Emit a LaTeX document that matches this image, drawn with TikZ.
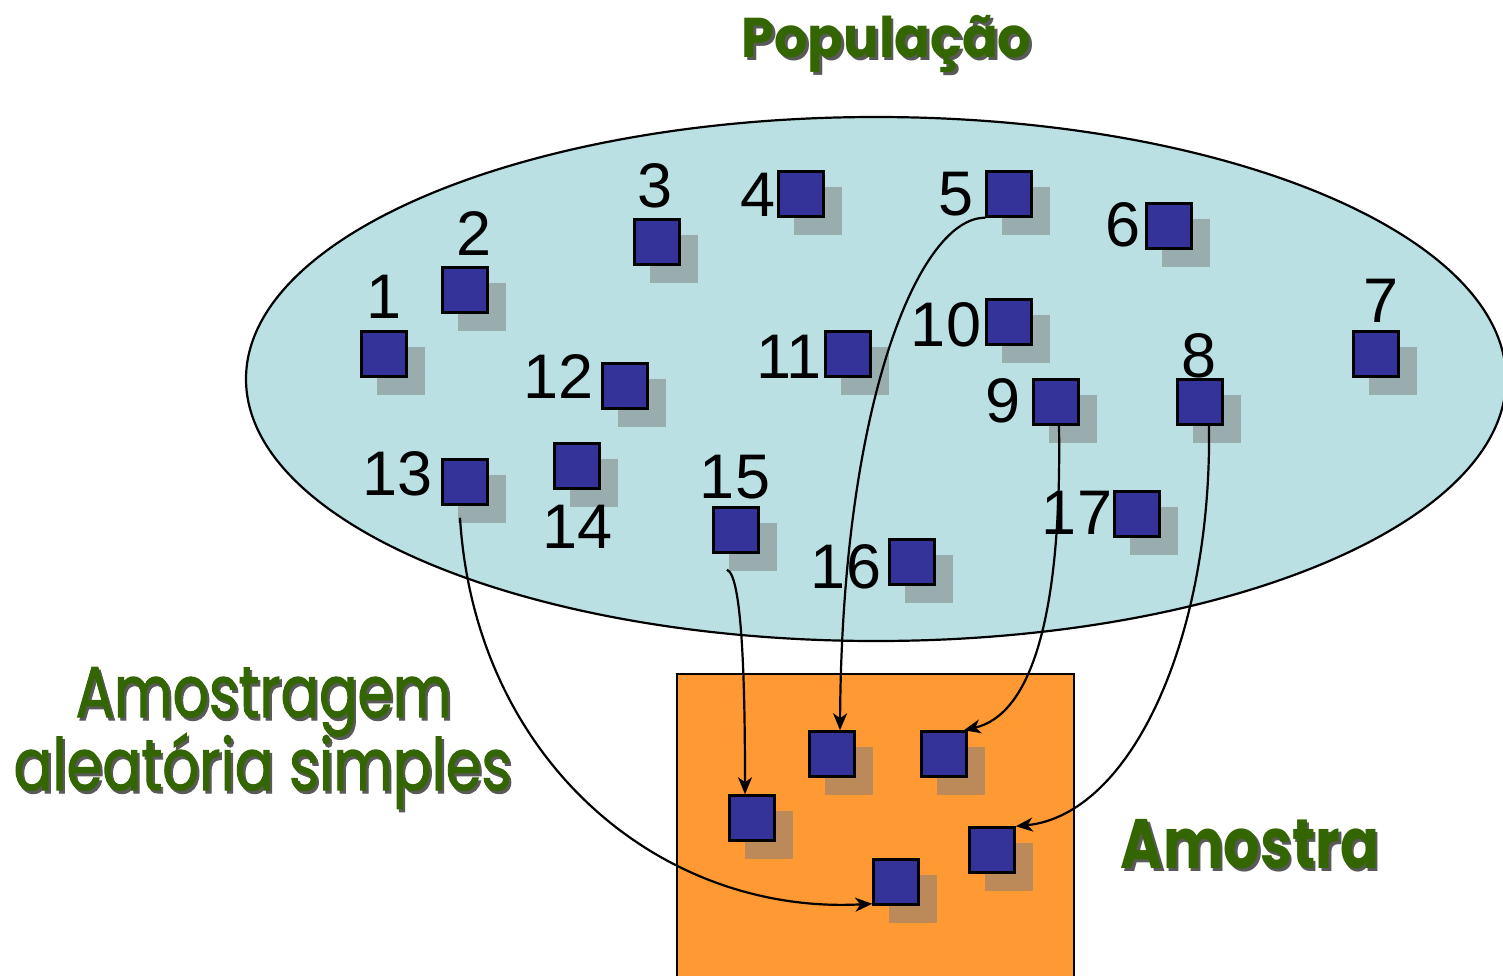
\documentclass[tikz,border=0pt]{standalone}
\usepackage{fontspec}
\usetikzlibrary{arrows.meta,shadows}
\newfontfamily\numfont{Liberation Sans}
\newfontfamily\ttlfont{Poppins}
\newfontfamily\ttlmed{Poppins}[FakeBold=1.6]
\definecolor{ellfill}{RGB}{186,224,227}
\definecolor{sqblue}{RGB}{51,51,153}
\definecolor{orng}{RGB}{255,153,51}
\definecolor{grn}{RGB}{51,102,0}
\definecolor{shd}{RGB}{122,124,125}
\newcommand\shtxt[1]{\makebox[0pt][l]{\hspace{3pt}\raisebox{-3pt}{\textcolor{black!65}{#1}}}#1}
\begin{document}
\begin{tikzpicture}[x=1pt,y=-1pt,
  sq/.style={draw=black, line width=2.5pt, fill=sqblue, minimum size=45pt, inner sep=0pt,
    general shadow={fill=shd, fill opacity=0.5, shadow xshift=16pt, shadow yshift=-16pt, shadow scale=1.06}},
  num/.style={anchor=base, inner sep=0pt, font=\numfont\fontsize{63}{63}\selectfont},
  link/.style={line width=2.2pt, -{Stealth[length=17pt,width=14pt,inset=5pt]}},
  ttl/.style={anchor=base, inner sep=0pt, text=grn}
]
\useasboundingbox (0,0) rectangle (1503,975);
% population
\draw[line width=2.2pt, fill=ellfill] (876,379) ellipse [x radius=630, y radius=262];
% sample frame
\draw[line width=2.2pt, fill=orng] (677,674) rectangle (1074,995);
% population squares
\foreach \n/\x/\y in {1/384/354, 2/465/290, 3/657/242, 4/801/194, 5/1009/194, 6/1169/226,
  7/1376/354, 8/1200/402, 9/1056/402, 10/1009/322, 11/848/354, 12/625/386, 13/465/482,
  14/577/466, 15/736/530, 16/912/562, 17/1137/514}
  \node[sq] (s\n) at (\x,\y) {};
% sample squares
\node[sq] (a) at (752,818) {};
\node[sq] (b) at (832,754) {};
\node[sq] (c) at (944,754) {};
\node[sq] (d) at (992,850) {};
\node[sq] (e) at (896,882) {};
% numbers
\foreach \n/\x/\y in {1/384/318, 2/474/255, 3/655/207, 4/758/216, 5/956/215, 6/1123/246,
  7/1381/322, 8/1199/377, 9/1003/422, 10/946/346, 11/789/378, 12/559/398, 13/398/495,
  14/578/548, 15/735/498, 16/846/588, 17/1077/534}
  \node[num] (l\n) at (\x,\y) {\n};
% arrows
\draw[link] (s5.south west) .. controls (920,217) and (842,400) .. ([xshift=8pt]b.north);
\draw[link] ([xshift=-9pt,yshift=-16pt]s15.south) .. controls (742,575) and (745,680) .. ([xshift=-7pt]a.north);
\draw[link] ([xshift=3pt]s9.south) .. controls (1062,620) and (1030,715) .. ([xshift=-4pt]c.north east);
\draw[link] ([xshift=9pt]s8.south) .. controls (1212,640) and (1130,815) .. (d.north east);
\draw[link] ([xshift=-5pt,yshift=-12pt]s13.south) .. controls (475,760) and (660,915) .. ([yshift=2pt]e.south west);
% titles
\node[ttl, font=\ttlfont\bfseries\fontsize{56}{56}\selectfont] (tpop) at (886.5,57) {\scalebox{0.94}[1]{\shtxt{População}}};
\node[ttl, font=\ttlmed\fontsize{72}{72}\selectfont] (tas1) at (263.5,717) {\scalebox{0.79}[1]{\shtxt{Amostragem}}};
\node[ttl, font=\ttlmed\fontsize{72}{72}\selectfont] (tas2) at (262.5,790) {\scalebox{0.80}[1]{\shtxt{aleatória simples}}};
\node[ttl, font=\ttlfont\bfseries\fontsize{70}{70}\selectfont] (tam) at (1250,868) {\scalebox{0.82}[1]{\shtxt{Amostra}}};
\end{tikzpicture}
\end{document}
